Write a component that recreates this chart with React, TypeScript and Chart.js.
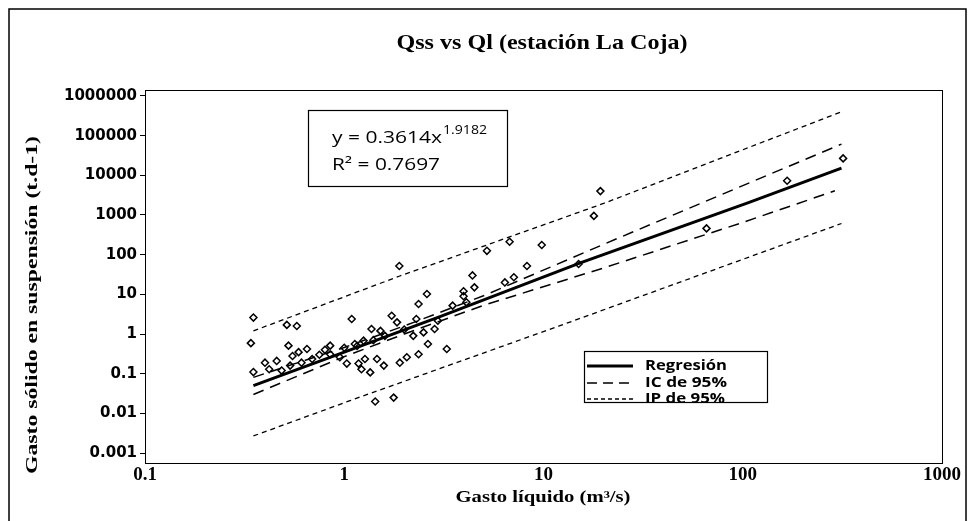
import React, { useEffect, useRef } from 'react';
import { Chart, registerables } from 'chart.js';
Chart.register(...registerables);

// ---- data ----
const obsX = [0.35, 0.34, 0.35, 0.40, 0.515, 0.578, 0.525, 0.65, 0.85, 1.09, 1.43, 1.77, 1.89, 2.36, 2.6, 3.27, 2.36, 2.63,
  5.2, 6.76, 9.8, 8.26, 6.4, 7.1, 4.4, 4.5, 3.97, 17.9, 19.3, 15, 65.8, 167, 319,
  0.458, 0.485, 0.535, 0.59, 0.61, 0.69, 0.85, 0.95, 1.03, 1.13, 1.18, 1.16, 1.25, 1.27, 1.22, 1.35, 1.46, 1.58, 1.9, 2.06,
  1.37, 1.52, 1.73, 1.84, 2.3, 2.22, 2.5, 2.84, 2.95, 3.5, 3.97, 4.1, 0.75, 0.8, 1.0, 1.4, 1.6, 2.0, 0.42, 0.55];
const obsY = [2.6, 0.59, 0.11, 0.19, 1.7, 1.6, 0.51, 0.42, 0.51, 2.4, 0.02, 0.025, 52, 5.7, 10.2, 0.42, 0.31, 0.56,
  125, 211, 175, 52, 20, 27, 30, 15, 12, 950, 4000, 58, 460, 7270, 26700,
  0.21, 0.12, 0.16, 0.35, 0.19, 0.235, 0.31, 0.26, 0.18, 0.56, 0.18, 0.5, 0.68, 0.235, 0.13, 0.108, 0.235, 0.16, 0.19, 0.26,
  1.34, 1.2, 2.9, 1.97, 2.4, 0.9, 1.1, 1.34, 2.16, 5.2, 9, 6.3, 0.3, 0.4, 0.45, 0.7, 0.9, 1.3, 0.13, 0.28];

const regX = [0.35, 1, 3, 15.3, 106, 313];
const regY = [0.05, 0.35, 2.7, 62, 2020, 15100];

const icUpX = [0.35, 1, 2, 5, 20, 100, 313];
const icUpY = [0.081, 0.46, 1.6, 9.2, 182, 5500, 61000];
const icLoX = [0.35, 1, 2, 5, 20, 100, 290];
const icLoY = [0.030, 0.27, 1.0, 5.3, 46, 650, 4070];

const ipUpX = [0.35, 1.9, 20, 313];
const ipUpY = [1.2, 29, 1950, 400000];
const ipLoX = [0.35, 1.07, 12, 313];
const ipLoY = [0.0027, 0.021, 1.6, 610];

const xTickValues = [0.1, 1, 10, 100, 1000];
const xTickLabels = ['0.1', '1', '10', '100', '1000'];
const yTickValues = [0.001, 0.01, 0.1, 1, 10, 100, 1000, 10000, 100000, 1000000];
const yTickLabels = ['0.001', '0.01', '0.1', '1', '10', '100', '1000', '10000', '100000', '1000000'];

const TITLE = 'Qss vs Ql (estación La Coja)';
const X_TITLE = 'Gasto líquido (m³/s)';
const Y_TITLE = 'Gasto sólido en suspensión (t.d-1)';
const EQ_MAIN = 'y = 0.3614x';
const EQ_EXP = '1.9182';
const EQ_R2 = 'R² = 0.7697';
const LEGEND = ['Regresión', 'IC de 95%', 'IP de 95%'];

const pts = (xs: number[], ys: number[]) => xs.map((x, i) => ({ x, y: ys[i] }));

function fitText(ctx: CanvasRenderingContext2D, text: string, cx: number, cy: number, width: number, font: string, align: 'center' | 'left' = 'center') {
  ctx.save();
  ctx.font = font;
  const w = ctx.measureText(text).width;
  const s = width / w;
  ctx.translate(cx, cy);
  ctx.scale(s, 1);
  ctx.textAlign = align;
  ctx.textBaseline = 'middle';
  ctx.fillStyle = '#000';
  ctx.fillText(text, 0, 0);
  ctx.restore();
}

const overlay = {
  id: 'overlay',
  afterDraw(chart: any) {
    const ctx: CanvasRenderingContext2D = chart.ctx;
    const a = chart.chartArea;
    ctx.save();
    ctx.strokeStyle = '#000';
    // outer frame
    ctx.lineWidth = 1.5;
    ctx.strokeRect(9, 9, 957, 530);
    // plot box
    ctx.lineWidth = 1;
    ctx.strokeRect(Math.round(a.left) + 0.5, Math.round(a.top) + 0.5, Math.round(a.right - a.left), Math.round(a.bottom - a.top));

    // titles
    fitText(ctx, TITLE, 542, 43, 291, 'bold 22px "Liberation Serif"');
    fitText(ctx, X_TITLE, 543, 498, 175, 'bold 16px "Liberation Serif"');
    ctx.save();
    ctx.translate(33, 305);
    ctx.rotate(-Math.PI / 2);
    fitText(ctx, Y_TITLE, 0, 0, 338, 'bold 17px "Liberation Serif"');
    ctx.restore();

    // equation box
    ctx.lineWidth = 1.2;
    ctx.strokeRect(308.5, 110.5, 199, 76);
    fitText(ctx, EQ_MAIN, 332, 138, 110, '16px "Open Sans"', 'left');
    fitText(ctx, EQ_EXP, 443, 131, 44, '12px "Open Sans"', 'left');
    fitText(ctx, EQ_R2, 332, 165, 108, '16px "Open Sans"', 'left');

    // legend box
    ctx.strokeRect(584.5, 351.5, 183, 51);
    const rows = [366, 383, 399];
    const dashes = [[], [10, 6], [4, 3]];
    const widths = [3, 1.3, 1.3];
    const tw = [82, 82, 80];
    rows.forEach((ry, i) => {
      ctx.save();
      ctx.beginPath();
      ctx.setLineDash(dashes[i]);
      ctx.lineWidth = widths[i];
      ctx.moveTo(587, ry);
      ctx.lineTo(633, ry);
      ctx.stroke();
      ctx.restore();
      fitText(ctx, LEGEND[i], 645, ry, tw[i], 'bold 14px "Open Sans"', 'left');
    });
    ctx.restore();
  },
};

export default function App() {
  const ref = useRef<HTMLCanvasElement>(null);
  useEffect(() => {
    if (!ref.current) return;
    const lineDs = (label: string, xs: number[], ys: number[], width: number, dash: number[]) => ({
      label,
      data: pts(xs, ys),
      showLine: true,
      borderColor: '#000',
      borderWidth: width,
      borderDash: dash,
      pointRadius: 0,
      fill: false,
      tension: 0,
    });
    const chart = new Chart(ref.current, {
      type: 'scatter',
      data: {
        datasets: [
          lineDs('Regresión', regX, regY, 3, []),
          lineDs('IC sup', icUpX, icUpY, 1.5, [11, 7]),
          lineDs('IC inf', icLoX, icLoY, 1.5, [11, 7]),
          lineDs('IP sup', ipUpX, ipUpY, 1.3, [5, 4]),
          lineDs('IP inf', ipLoX, ipLoY, 1.3, [5, 4]),
          {
            label: 'Datos',
            data: pts(obsX, obsY),
            pointStyle: 'rectRot',
            pointRadius: 3.5,
            pointBorderWidth: 1.5,
            borderColor: '#000',
            backgroundColor: 'rgba(0,0,0,0)',
            showLine: false,
          } as any,
        ],
      },
      options: {
        animation: false,
        responsive: false,
        events: [],
        layout: { padding: { left: 0, top: 90, right: 29, bottom: 0 } },
        plugins: { legend: { display: false }, title: { display: false }, tooltip: { enabled: false } },
        scales: {
          x: {
            type: 'logarithmic',
            min: 0.1,
            max: 1000,
            afterFit: (s: any) => { s.height = 58; },
            afterBuildTicks: (s: any) => { s.ticks = xTickValues.map((v) => ({ value: v })); },
            grid: { display: true, drawOnChartArea: false, tickLength: 0, color: '#000' },
            border: { display: true, color: '#000', width: 1 },
            ticks: {
              color: '#000',
              padding: 1,
              maxRotation: 0,
              autoSkip: false,
              font: { family: 'Liberation Serif', size: 19, weight: 'bold' },
              callback: (_v: any, i: number) => xTickLabels[i],
            },
          },
          y: {
            type: 'logarithmic',
            min: Math.pow(10, -3.25),
            max: Math.pow(10, 6.15),
            afterFit: (s: any) => { s.width = 145; },
            afterBuildTicks: (s: any) => { s.ticks = yTickValues.map((v) => ({ value: v })); },
            grid: { display: true, drawOnChartArea: false, tickLength: 5, color: '#000' },
            border: { display: true, color: '#000', width: 1 },
            ticks: {
              color: '#000',
              padding: 3,
              autoSkip: false,
              font: { family: 'DejaVu Sans', size: 15, weight: 'bold' },
              callback: (_v: any, i: number) => yTickLabels[i],
            },
          },
        },
      },
      plugins: [overlay],
    } as any);
    return () => chart.destroy();
  }, []);
  return (
    <div style={{ position: 'absolute', left: 0, top: 0, width: 971, height: 521, background: '#fff' }}>
      <canvas ref={ref} width={971} height={521} style={{ display: 'block', width: 971, height: 521 }} />
    </div>
  );
}
